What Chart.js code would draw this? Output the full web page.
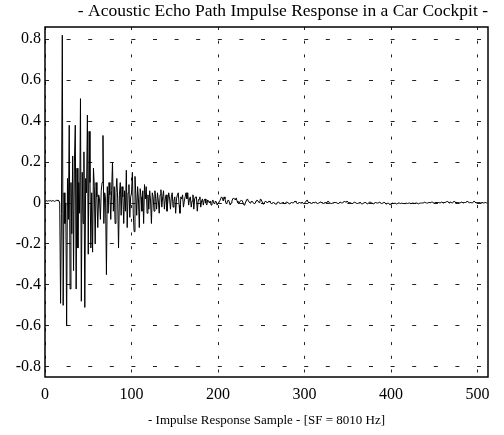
<!DOCTYPE html>
<html>
<head>
<meta charset="utf-8">
<script src="https://cdn.jsdelivr.net/npm/chart.js@4.4.0/dist/chart.umd.min.js"></script>
<style>
  html, body { margin: 0; padding: 0; background: #fff; }
  canvas { display: block; }
</style>
</head>
<body>
<canvas id="irChart" width="504" height="435"></canvas>
<script>
// === DATA (one value per sample) ===
const titleText = '- Acoustic Echo Path Impulse Response in a Car Cockpit -';
const xTitleText = '- Impulse Response Sample - [SF = 8010 Hz]';
const xTicks = [0, 100, 200, 300, 400, 500];
const yTicks = [-0.8, -0.6, -0.4, -0.2, 0, 0.2, 0.4, 0.6, 0.8];

// samples 0-130: direct path + early reflections
const responseEarly = [
  0.008, 0.01, 0.012, 0.009, 0.011, 0.01, 0.013, 0.009, 0.01, 0.012, 0.011, 0.008, 0.01, 0.012, 0.015, 0.01, 0.012,
  0.0, -0.49, -0.05, 0.82, -0.5, 0.05, -0.1, 0.0, -0.6, 0.12, -0.08, 0.38, -0.42,
  0.1, -0.15, 0.23, -0.33, 0.2, 0.38, -0.42, 0.17, -0.22, 0.1,
  -0.05, 0.51, -0.48, 0.15, -0.1, 0.25, -0.51, 0.12, 0.05, 0.43,
  -0.25, 0.35, 0.1, -0.22, 0.05, -0.24, 0.17, 0.08, -0.2, 0.1,
  0.03, -0.12, 0.04, 0.02, -0.08, 0.06, 0.1, 0.33, -0.1, 0.05, 0.02, -0.35,
  0.08, -0.05, 0.1, 0.04, -0.08, 0.06, 0.2, -0.04, 0.08, -0.1, 0.05, 0.12, 0.02, -0.22,
  0.04, 0.1, -0.06, 0.08, 0.03, -0.1, 0.06, -0.04, 0.16, -0.12, 0.05, 0.09, -0.07, 0.03,
  0.05, 0.15, -0.05, -0.14, 0.13, 0.04, -0.06, 0.08, 0.02, -0.12, 0.07, 0.03, -0.04, 0.06,
  -0.1, 0.09, 0.02, 0.08, -0.05, 0.04, -0.03, 0.06, 0.01, -0.1, 0.05, 0.03, -0.04, 0.06,
  0.02, -0.03, 0.05
];

// samples 131-260: decaying reverberation
const responseMid = [
  0.01, -0.05, 0.04, 0.065, -0.02, 0.03, 0.06, -0.03, 0.02, 0.04, -0.04, 0.01, 0.05, 0.02, -0.03,
  0.03, 0.05, -0.02, 0.01, 0.03, -0.05, 0.02, 0.04, 0.05, -0.01, -0.05, 0.03, 0.02, 0.04, -0.02,
  0.01, 0.03, 0.05, 0.02, 0.05, -0.01, 0.02, 0.03, -0.02, 0.01, 0.04, -0.03, 0.02, 0.03, 0.03,
  -0.04, 0.01, 0.02, 0.03, -0.02, 0.01, 0.02, -0.01, 0.015, 0.02, 0.0, -0.01, 0.015, 0.01, 0.0,
  0.01, -0.01, 0.005, 0.015, 0.0, -0.005, 0.01, 0.005, -0.01, 0.0,
  0.005, 0.01, 0.02, 0.03, 0.025, 0.01, 0.03, 0.02, 0.0, -0.005, 0.01, 0.015, 0.005, -0.01, 0.0,
  0.01, 0.02, 0.025, 0.02, 0.015, 0.025, 0.01, 0.0, -0.005, 0.005, 0.01, 0.015, 0.01, 0.0, -0.01,
  -0.005, 0.005, 0.015, 0.02, 0.01, 0.005, 0.0, 0.005, 0.01, 0.005, 0.0, -0.005, 0.0, 0.01, 0.015,
  0.01, 0.005, 0.0, 0.02, 0.015, 0.005, -0.005, 0.0, 0.005, 0.01, 0.005, 0.0, 0.005, 0.01, 0.005
];

// samples 261-511: residual tail
const responseTail = [
  0.0, -0.005, 0.0, 0.005, 0.0, -0.005, -0.005, 0.0, 0.005, 0.005, 0.0, -0.005, 0.0, 0.0, 0.005, 0.0, -0.005, 0.0, 0.005, 0.005, 0.0, 0.0, -0.005, 0.0, 0.005,
  0.0, 0.0, 0.005, 0.01, 0.005, 0.0, -0.005, 0.0, 0.005, 0.0, 0.0, 0.005, 0.0, -0.005, 0.0, 0.005, 0.01, 0.015, 0.005, 0.0, 0.005, 0.0, -0.005, 0.0, 0.005,
  0.0, 0.0, 0.005, 0.0, -0.005, 0.0, 0.0, 0.005, 0.005, 0.0, 0.0, -0.005, 0.0, 0.005, 0.0, 0.005, 0.01, 0.005, 0.0, 0.0, -0.005, 0.0, 0.0, 0.005, 0.0,
  0.005, 0.0, 0.0, -0.005, 0.0, 0.005, 0.005, 0.0, 0.0, 0.005, 0.01, 0.005, 0.005, 0.01, 0.005, 0.0, 0.005, 0.0, 0.0, -0.005, 0.0, 0.0, 0.005, 0.0, 0.0,
  -0.005, 0.0, 0.0, 0.005, 0.0, -0.005, -0.005, 0.0, 0.0, 0.005, 0.0, 0.0, -0.005, 0.0, 0.005, 0.005, 0.0, 0.0, 0.0, -0.005, 0.0, 0.005, 0.0, 0.0, 0.0,
  0.0, 0.005, 0.0, -0.005, 0.0, 0.0, 0.005, 0.0, -0.005, -0.005, 0.0, 0.0, -0.005, -0.01, -0.005, 0.0, 0.0, -0.005, 0.0, 0.0, -0.005, -0.005, 0.0, 0.0, 0.0,
  -0.005, 0.0, 0.0, -0.005, 0.0, -0.005, 0.0, 0.0, -0.005, 0.0, 0.0, 0.0, -0.005, 0.0, 0.0, 0.0, -0.005, 0.0, 0.0, 0.0, 0.0, -0.005, 0.0, 0.0, 0.0,
  0.0, 0.0, 0.0, 0.005, 0.0, 0.0, 0.0, 0.0, 0.005, 0.0, 0.0, 0.005, 0.005, 0.0, 0.0, 0.0, 0.005, 0.0, 0.0, 0.005, 0.0, 0.0, 0.005, 0.005, 0.0,
  0.005, 0.0, 0.005, 0.005, 0.01, 0.005, 0.0, 0.005, 0.005, 0.0, 0.0, 0.005, 0.01, 0.005, 0.0, 0.005, 0.0, 0.005, 0.0, 0.0, 0.005, 0.005, 0.0, 0.0, 0.005,
  0.0, 0.005, 0.01, 0.005, 0.005, 0.0, 0.005, 0.0, 0.0, 0.005, 0.01, 0.005, 0.0, 0.0, 0.005, 0.0, 0.005, 0.0, 0.0, 0.005, 0.0, 0.0, 0.0, 0.005, 0.0, 0.0
];

// === BUILD POINTS (x = sample index) ===
const response = responseEarly.concat(responseMid, responseTail);
const points = response.map((v, i) => ({ x: i, y: v }));

const serif = 'Liberation Serif';

// full box around the plot area
const frameBox = {
  id: 'frameBox',
  afterDraw(chart) {
    const { ctx, chartArea: a } = chart;
    ctx.save();
    ctx.strokeStyle = '#000';
    ctx.lineWidth = 1.5;
    ctx.strokeRect(a.left, a.top, a.right - a.left, a.bottom - a.top);
    ctx.restore();
  }
};

const ctx = document.getElementById('irChart').getContext('2d');
new Chart(ctx, {
  type: 'line',
  data: {
    datasets: [{
      data: points,
      borderColor: '#000',
      borderWidth: 1,
      pointRadius: 0,
      tension: 0,
      fill: false
    }]
  },
  options: {
    responsive: false,
    animation: false,
    layout: { padding: { top: 0, right: 16, bottom: 0, left: 0 } },
    plugins: {
      legend: { display: false },
      tooltip: { enabled: false },
      title: {
        display: true,
        text: titleText,
        align: 'end',
        color: '#000',
        font: { family: serif, size: 17.5, weight: 'normal' },
        padding: { top: 1, bottom: 5 }
      }
    },
    scales: {
      x: {
        type: 'linear',
        min: 0,
        max: 512,
        afterFit: s => { s.height = 58; },
        afterBuildTicks: s => { s.ticks = xTicks.map(v => ({ value: v })); },
        ticks: { color: '#000', font: { family: serif, size: 16 }, padding: 8, maxRotation: 0 },
        grid: { color: '#222', lineWidth: 1, drawTicks: false },
        border: { display: false, dash: [3, 10.7] },
        title: {
          display: true,
          text: xTitleText,
          color: '#000',
          font: { family: serif, size: 13 },
          padding: { top: 0, bottom: 7 }
        }
      },
      y: {
        min: -0.85,
        max: 0.86,
        afterFit: s => { s.width = 45; },
        afterBuildTicks: s => { s.ticks = yTicks.map(v => ({ value: v })); },
        ticks: {
          color: '#000',
          font: { family: serif, size: 16 },
          padding: 4,
          callback: v => String(Math.round(v * 10) / 10)
        },
        grid: { color: '#222', lineWidth: 1, drawTicks: false },
        border: { display: false, dash: [4, 17.6] }
      }
    }
  },
  plugins: [frameBox]
});
</script>
</body>
</html>
